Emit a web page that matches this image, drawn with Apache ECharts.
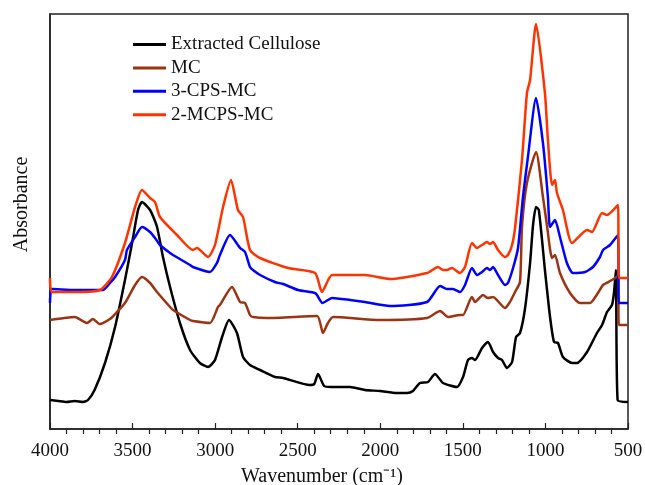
<!DOCTYPE html>
<html><head><meta charset="utf-8">
<script src="https://cdn.jsdelivr.net/npm/echarts@6/dist/echarts.min.js"></script>
<style>html,body{margin:0;padding:0;background:#fff}#c{width:645px;height:485px}</style>
</head><body><div id="c"></div>
<script>
const seriesNames = ['Extracted Cellulose', 'MC', '3-CPS-MC', '2-MCPS-MC'];
const xTicks = [4000, 3500, 3000, 2500, 2000, 1500, 1000, 500];

// [wavenumber (cm-1), absorbance (a.u., offset)]
const cellulose = [
[4000,0.29],[3950,0.28],[3900,0.27],[3850,0.28],[3800,0.27],[3770,0.29],[3730,0.39],[3667,0.66],[3606,1.02],
[3546,1.49],[3503,1.86],[3467,2.19],[3443,2.27],[3394,2.19],[3352,2.02],[3316,1.72],[3273,1.42],[3213,1.06],
[3152,0.79],[3092,0.66],[3043,0.62],[3001,0.69],[2958,0.92],[2916,1.09],[2868,0.96],[2831,0.72],[2789,0.64],
[2728,0.59],[2638,0.52],[2589,0.51],[2426,0.44],[2400,0.45],[2377,0.55],[2340,0.43],[2300,0.42],[2183,0.42],
[2093,0.39],[2002,0.38],[1900,0.36],[1838,0.36],[1802,0.38],[1760,0.46],[1711,0.47],[1669,0.55],[1620,0.46],
[1536,0.42],[1499,0.52],[1469,0.69],[1445,0.71],[1426,0.69],[1384,0.81],[1348,0.87],[1317,0.77],[1287,0.71],
[1263,0.69],[1233,0.61],[1202,0.67],[1178,0.92],[1154,0.96],[1124,1.20],[1093,1.66],[1075,2.04],[1057,2.22],
[1040,2.19],[1003,1.59],[972,1.12],[948,0.87],[924,0.86],[894,0.72],[839,0.66],[809,0.66],[748,0.77],
[688,0.96],[657,1.04],[627,1.17],[597,1.24],[585,1.36],[573,1.59],[563,0.29],[500,0.27]
];
const mc = [
[4000,1.09],[3850,1.12],[3776,1.06],[3740,1.10],[3700,1.05],[3637,1.10],[3600,1.16],[3546,1.26],[3485,1.44],
[3443,1.52],[3394,1.46],[3352,1.37],[3273,1.22],[3255,1.19],[3152,1.09],[3134,1.08],[3031,1.06],[2983,1.22],
[2971,1.24],[2898,1.42],[2849,1.27],[2819,1.26],[2789,1.14],[2771,1.12],[2686,1.11],[2383,1.13],[2347,0.96],
[2317,1.06],[2286,1.12],[2002,1.09],[1717,1.11],[1638,1.18],[1590,1.12],[1517,1.14],[1499,1.14],[1445,1.32],
[1426,1.27],[1378,1.34],[1348,1.31],[1317,1.32],[1245,1.21],[1215,1.27],[1184,1.37],[1154,1.47],[1142,2.02],
[1112,2.46],[1057,2.77],[1015,2.32],[991,2.04],[960,1.71],[942,1.74],[912,1.56],[851,1.36],[791,1.26],
[730,1.26],[682,1.36],[651,1.44],[597,1.49],[561,1.53],[555,1.04],[500,1.04]
];
const cpsMc = [
[4000,1.26],[3988,1.40],[3850,1.39],[3728,1.39],[3679,1.39],[3637,1.46],[3606,1.52],[3546,1.69],[3534,1.79],
[3485,1.92],[3443,2.02],[3394,1.97],[3364,1.91],[3334,1.84],[3273,1.76],[3255,1.74],[3152,1.64],[3134,1.62],
[3031,1.57],[2989,1.66],[2971,1.74],[2910,1.94],[2849,1.81],[2819,1.77],[2789,1.62],[2771,1.59],[2728,1.54],
[2638,1.47],[2589,1.45],[2498,1.39],[2395,1.36],[2383,1.34],[2350,1.26],[2292,1.31],[2183,1.29],[2093,1.27],
[1941,1.23],[1717,1.27],[1638,1.43],[1596,1.40],[1560,1.40],[1517,1.37],[1487,1.44],[1445,1.61],[1414,1.54],
[1384,1.57],[1354,1.61],[1336,1.59],[1317,1.62],[1287,1.54],[1245,1.44],[1227,1.46],[1196,1.61],[1166,1.81],
[1136,2.32],[1106,2.72],[1057,3.31],[1015,2.86],[985,2.32],[972,2.02],[942,2.09],[912,1.92],[870,1.66],
[833,1.56],[760,1.57],[712,1.62],[670,1.72],[651,1.79],[609,1.84],[561,1.94],[555,1.26],[500,1.26]
];
const mcpsMc = [
[4000,1.51],[3988,1.37],[3830,1.37],[3697,1.39],[3625,1.52],[3546,1.86],[3485,2.22],[3443,2.39],[3394,2.31],
[3364,2.27],[3334,2.12],[3231,1.94],[3134,1.79],[3110,1.81],[3043,1.72],[3001,1.84],[2952,2.22],[2904,2.49],
[2862,2.19],[2831,2.12],[2789,1.79],[2728,1.71],[2559,1.61],[2395,1.56],[2353,1.37],[2292,1.54],[2093,1.54],
[1941,1.50],[1717,1.56],[1651,1.62],[1620,1.59],[1596,1.59],[1566,1.61],[1517,1.56],[1487,1.62],[1445,1.86],
[1414,1.81],[1384,1.84],[1354,1.87],[1336,1.85],[1317,1.87],[1287,1.79],[1245,1.72],[1227,1.74],[1202,1.84],
[1184,2.01],[1142,2.69],[1112,3.36],[1093,3.49],[1057,4.05],[1003,3.36],[985,2.89],[960,2.44],[942,2.49],
[930,2.36],[894,2.19],[839,1.86],[748,1.99],[718,1.97],[657,2.16],[627,2.14],[561,2.24],[555,1.51],[500,1.51]
];
const colors = ['#000000', '#9a3412', '#0000ff', '#ff3300'];
const seriesData = [cellulose, mc, cpsMc, mcpsMc];

const minorTicks = [];
for (let v = xTicks[xTicks.length-1]; v <= xTicks[0]; v += 100) { if (v % 500 !== 0) minorTicks.push(v); }

const font = 'Liberation Serif, Times New Roman, serif';
const chart = echarts.init(document.getElementById('c'), null, {renderer: 'canvas'});
chart.setOption({
  animation: false,
  backgroundColor: '#fff',
  grid: {left: 50, right: 17, top: 14, bottom: 56, outerBoundsMode: 'none', containLabel: false,
         show: true, borderColor: '#222', borderWidth: 1.5, backgroundColor: 'transparent'},
  legend: {
    data: seriesNames, orient: 'vertical', left: 128, top: 30, itemWidth: 33, itemHeight: 3, itemGap: 4.4,
    icon: 'rect', textStyle: {fontFamily: font, fontSize: 19, color: '#111'}
  },
  xAxis: [{
    type: 'value', inverse: true, min: 500, max: 4000, interval: 500,
    axisLine: {show: true, lineStyle: {color: '#222', width: 1.5}},
    axisTick: {show: true, inside: true, length: 6, lineStyle: {color: '#222', width: 1.2}},
    axisLabel: {fontFamily: font, fontSize: 19, color: '#111', margin: 13, formatter: v => String(v)},
    splitLine: {show: false},
    name: 'Wavenumber (cm\u207B\u00B9)', nameLocation: 'middle', nameGap: 38,
    nameTextStyle: {fontFamily: font, fontSize: 20, color: '#111', padding: [0, 34, 0, 0]}
  }, {
    type: 'value', inverse: true, min: 500, max: 4000, position: 'bottom',
    axisLine: {show: false},
    axisTick: {show: true, inside: false, length: 5, customValues: minorTicks, lineStyle: {color: '#222', width: 1.2}},
    axisLabel: {show: false}, splitLine: {show: false}
  }],
  yAxis: {
    type: 'value', min: 0, max: 4.15,
    axisLine: {show: true, lineStyle: {color: '#222', width: 1.5}},
    axisTick: {show: false}, axisLabel: {show: false}, splitLine: {show: false},
    name: 'Absorbance', nameLocation: 'middle', nameGap: 18,
    nameTextStyle: {fontFamily: font, fontSize: 20, color: '#111', padding: [0, 0, 0, 34]}
  },
  series: seriesNames.map((n, i) => ({
    name: n, type: 'line', data: seriesData[i], showSymbol: false, symbol: 'none',
    smooth: 0.2, lineStyle: {color: colors[i], width: 2.5}, itemStyle: {color: colors[i]}
  }))
});
</script></body></html>
